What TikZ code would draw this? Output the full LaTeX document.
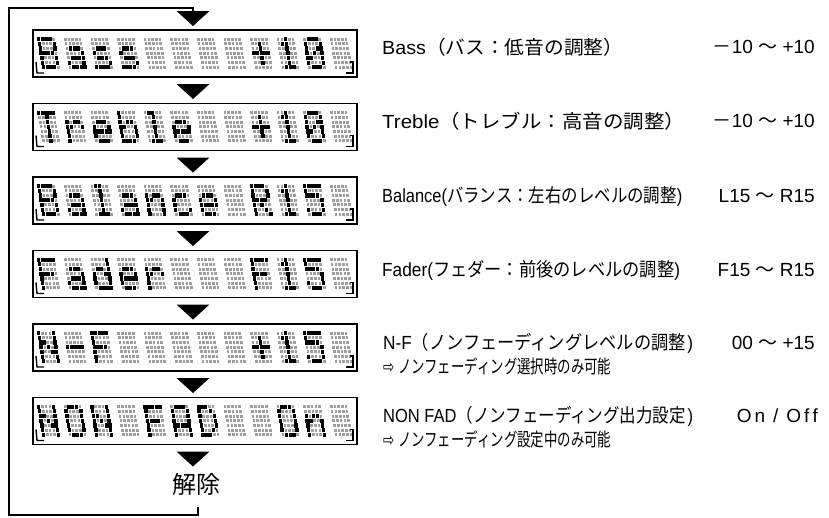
\documentclass[tikz,border=0pt]{standalone}
\usepackage{fontspec}
\usepackage{graphicx}
\setmainfont{Liberation Sans}
\newfontfamily\jp{Noto Sans CJK JP}
\newfontfamily\dv{DejaVu Sans}
\usetikzlibrary{calc}

% ---- 5x7 dot-matrix glyphs ----
\newcommand\defglyph[2]{\expandafter\def\csname lcdg#1\endcsname{#2}}
\defglyph{sp}{00000,00000,00000,00000,00000,00000,00000}
\defglyph{B}{11110,10001,10001,11110,10001,10001,11110}
\defglyph{a}{00000,00000,01110,00001,01111,10001,01111}
\defglyph{s}{00000,00000,01110,10000,01110,00001,11110}
\defglyph{T}{11111,00100,00100,00100,00100,00100,00100}
\defglyph{r}{00000,00000,10110,11001,10000,10000,10000}
\defglyph{e}{00000,00000,01110,10001,11111,10000,01110}
\defglyph{b}{10000,10000,10110,11001,10001,10001,11110}
\defglyph{l}{01100,00100,00100,00100,00100,00100,01110}
\defglyph{plus}{00000,00100,00100,11111,00100,00100,00000}
\defglyph{minus}{00000,00000,00000,11111,00000,00000,00000}
\defglyph{1}{00100,01100,00100,00100,00100,00100,01110}
\defglyph{0}{01110,10001,10011,10101,11001,10001,01110}
\defglyph{5}{11111,10000,11110,00001,00001,10001,01110}
\defglyph{n}{00000,00000,10110,11001,10001,10001,10001}
\defglyph{c}{00000,00000,01110,10000,10000,10001,01110}
\defglyph{d}{00001,00001,01101,10011,10001,10001,01111}
\defglyph{R}{11110,10001,10001,11110,10100,10010,10001}
\defglyph{F}{11111,10000,10000,11110,10000,10000,10000}
\defglyph{N}{10001,10001,11001,10101,10011,10001,10001}
\defglyph{O}{01110,10001,10001,10001,10001,10001,01110}
\defglyph{A}{01110,10001,10001,10001,11111,10001,10001}
\defglyph{D}{11100,10010,10001,10001,10001,10010,11100}

\def\cpx{26.6}  % character pitch
\def\dpx{3.7}   % dot pitch x
\def\dpy{4.7}   % dot pitch y
\def\slant{0.8} % shift per row
\def\donw{3.4}\def\donh{4.2}
\def\doffw{2.6}\def\doffh{3.0}

\newcommand\lcddot[2]{%
  \ifnum#2=1 \fill[lcdon] (\lx+#1*\dpx,\ly) rectangle ++(\donw,\donh);%
  \else \fill[lcdoff] (\lx+#1*\dpx+0.4,\ly+0.6) rectangle ++(\doffw,\doffh);\fi}
\newcommand\lcdrowdraw[5]{\lcddot{0}{#1}\lcddot{1}{#2}\lcddot{2}{#3}\lcddot{3}{#4}\lcddot{4}{#5}}
\newcommand\lcdtext[3]{%
  \foreach \ch [count=\k from 0] in {#3} {%
    \expandafter\let\expandafter\glyph\csname lcdg\ch\endcsname
    \foreach \rw [count=\ri from 0] in \glyph {%
      \pgfmathsetmacro\lx{#1+\k*\cpx+\ri*\slant}%
      \pgfmathsetmacro\ly{#2+\ri*\dpy}%
      \expandafter\lcdrowdraw\rw
    }%
  }%
}

\begin{document}
\begin{tikzpicture}[x=1pt,y=-1pt,
  lcdframe/.style={draw=black, line width=1.6pt, minimum width=324pt, minimum height=47pt,
                   inner sep=0pt, outer sep=0pt, anchor=north west, fill=white},
  lcdon/.style={fill=black},
  lcdoff/.style={fill=black!38},
  tri/.style={fill=black},
  loopline/.style={draw=black, line width=2pt},
  bracket/.style={draw=black, line width=1.4pt},
  lbl/.style={anchor=west, inner sep=0pt, font=\fontsize{19}{22}\selectfont},
  vallbl/.style={anchor=east, inner sep=0pt, font=\fontsize{19}{22}\selectfont},
  sublbl/.style={anchor=west, inner sep=0pt, font=\fontsize{18.5}{21}\selectfont},
]
\fill[white] (0,0) rectangle (829,517);
\useasboundingbox (0,0) rectangle (829,517);

% displays
\node[lcdframe] (d1) at (33,30) {};
\node[lcdframe] (d2) at (33,103.5) {};
\node[lcdframe] (d3) at (33,177) {};
\node[lcdframe] (d4) at (33,250.5) {};
\node[lcdframe] (d5) at (33,324) {};
\node[lcdframe] (d6) at (33,397.5) {};

\lcdtext{37}{37}{B,a,s,s,sp,sp,sp,sp,plus,1,0,sp}
\lcdtext{37}{110.5}{T,r,e,b,l,e,sp,sp,plus,1,0,sp}
\lcdtext{37}{184}{B,a,l,a,n,c,e,sp,R,1,5,sp}
\lcdtext{37}{257.5}{F,a,d,e,r,sp,sp,sp,F,1,5,sp}
\lcdtext{37}{331}{N,minus,F,sp,sp,sp,sp,sp,plus,1,5,sp}
\lcdtext{37}{404.5}{N,O,N,sp,F,A,D,sp,sp,O,n,sp}

% corner brackets and down arrows
\foreach \d in {d1,d2,d3,d4,d5,d6} {
  \draw[bracket] ($(\d.south west)+(3,-15)$) -- ++(1,11) -- ++(7,0);
  \draw[bracket] ($(\d.south east)+(-11,-4)$) -- ++(7,0) -- ++(0,-11) -- ++(-3,0);
  \fill[tri] ($(\d.south)+(-18.5,7)$) -- ++(33,0) -- ++(-16.5,15) -- cycle;
}
\coordinate (a0) at ($(d1.north)+(-2,-19)$);
\fill[tri] ($(a0)+(-16.5,0)$) -- ++(33,0) -- ++(-16.5,15) -- cycle;

% release label and loop back
\node[font=\jp\fontsize{24}{28}\selectfont, inner sep=0pt] (rel) at (196,484) {解除};
\coordinate (lp1) at (198,507);
\coordinate (lp2) at (9,515);
\coordinate (lp3) at (9,8);
\draw[loopline] (lp1) |- (lp2) -- (lp3) -| (a0);

% right-hand labels
\node[lbl] (t1) at (382,47) {\resizebox{241pt}{\height}{Bass{\jp （バス：低音の調整）}}};
\node[lbl] (t2) at (382,121) {\resizebox{303pt}{\height}{Treble{\jp （トレブル：高音の調整）}}};
\node[lbl] (t3) at (382,196) {\resizebox{300pt}{\height}{Balance({\jp バランス：左右のレベルの調整})}};
\node[lbl] (t4) at (382,270) {\resizebox{298pt}{\height}{Fader({\jp フェダー：前後のレベルの調整})}};
\node[lbl] (t5) at (383,343) {\resizebox{310pt}{\height}{N-F{\jp （ノンフェーディングレベルの調整}\kern2pt)}};
\node[sublbl] (s5) at (383,366) {\resizebox{228pt}{\height}{{\dv ⇨} {\jp ノンフェーディング選択時のみ可能}}};
\node[lbl] (t6) at (383,416) {\resizebox{310pt}{\height}{NON FAD{\jp （ノンフェーディング出力設定}\kern2pt)}};
\node[sublbl] (s6) at (383,439) {\resizebox{228pt}{\height}{{\dv ⇨} {\jp ノンフェーディング設定中のみ可能}}};

\node[vallbl] (v1) at (815,47) {{\jp －}10 {\jp ～} +10};
\node[vallbl] (v2) at (815,121) {{\jp －}10 {\jp ～} +10};
\node[vallbl] (v3) at (815,196) {L15 {\jp ～} R15};
\node[vallbl] (v4) at (815,270) {F15 {\jp ～} R15};
\node[vallbl] (v5) at (815,343) {00 {\jp ～} +15};
\node[vallbl] (v6) at (818,416) {O\kern3pt n\kern8pt/\kern8pt O\kern3pt f\kern3pt f};
\end{tikzpicture}
\end{document}
